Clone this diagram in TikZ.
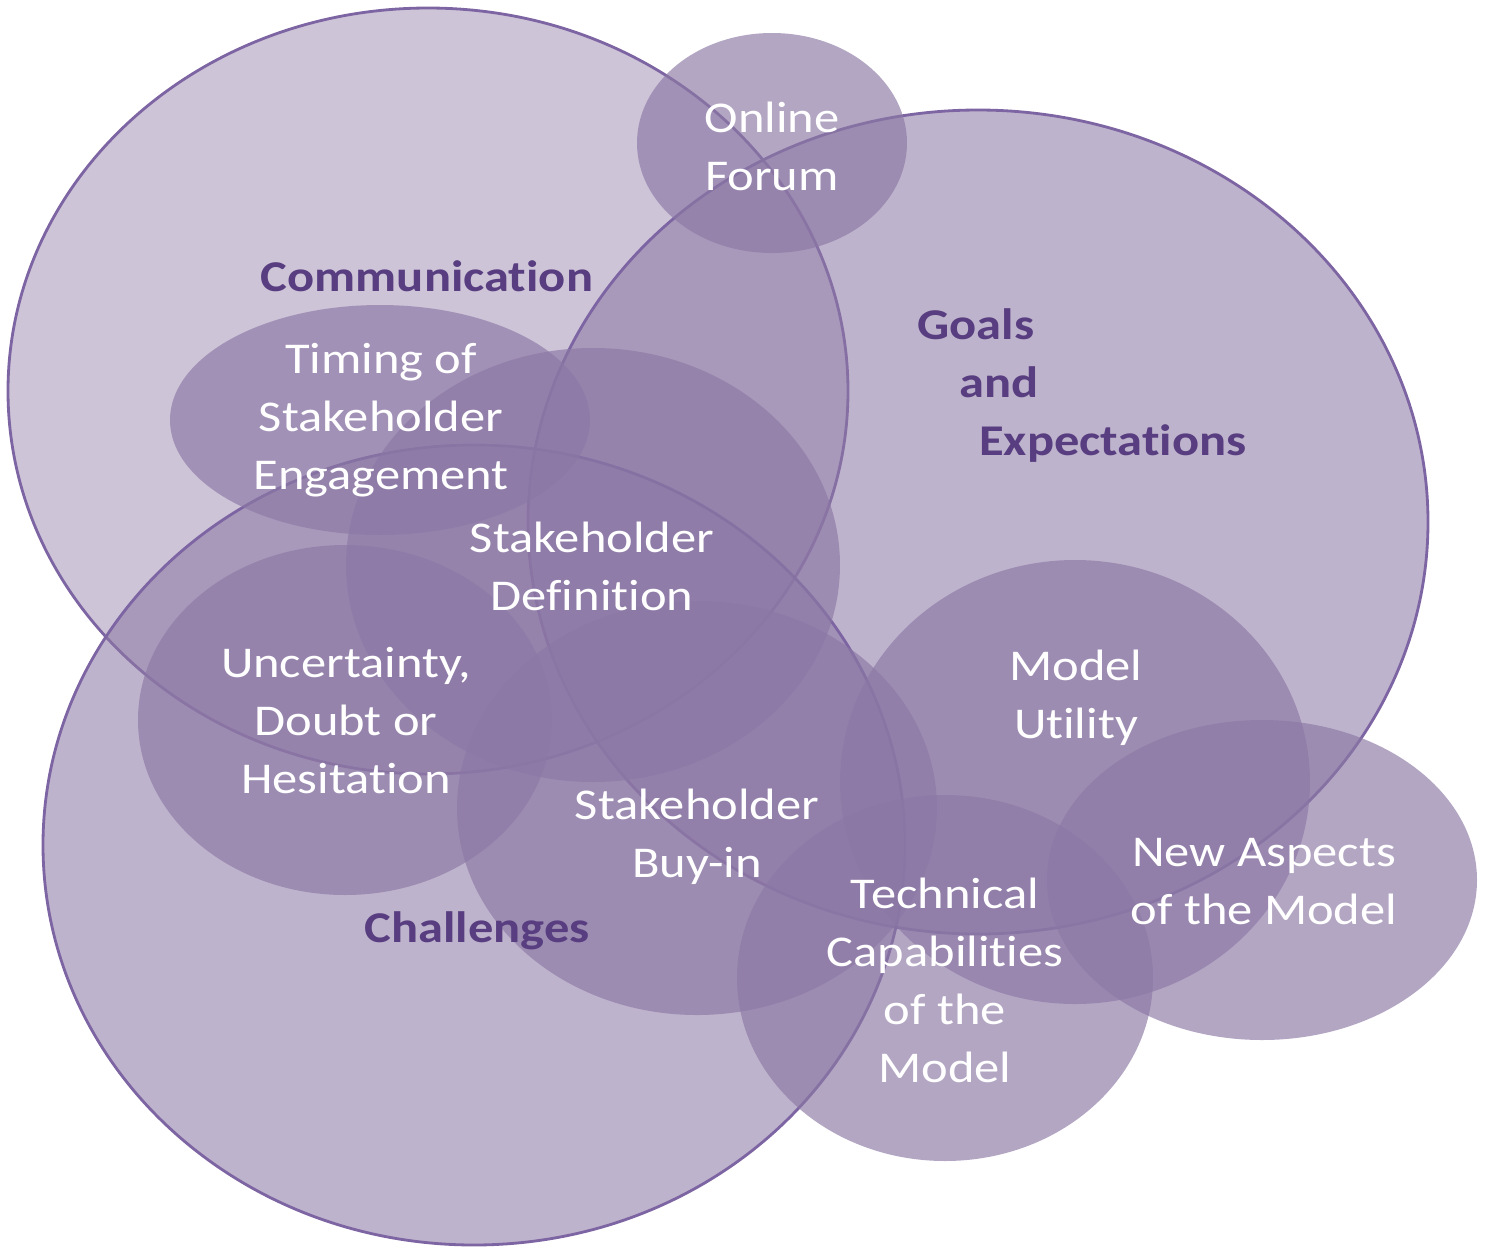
\documentclass[tikz,border=0pt]{standalone}
\usepackage{fontspec}
\setmainfont{Carlito}[FakeStretch=1.15, Ligatures=NoCommon]
\definecolor{vennpurple}{RGB}{140,120,165}
\definecolor{vennline}{RGB}{125,100,162}
\definecolor{venntitle}{RGB}{88,62,128}
\tikzset{
bigset/.style   = {draw=vennline, line width=1.6pt,
                   fill=vennpurple, fill opacity=0.43},
subset/.style   = {fill=vennpurple, fill opacity=0.66},
settitle/.style = {font=\fontsize{25}{33}\selectfont\bfseries,
                   text=venntitle, align=center},
itemtext/.style = {font=\fontsize{25}{33}\selectfont,
                   text=white, align=center}
}

\begin{document}
\begin{tikzpicture}[x=0.02cm, y=-0.02cm]
\fill[white] (0,0) rectangle (1489,1252);
\useasboundingbox (0,0) rectangle (1489,1252);

% themes
\draw[bigset] (428,391) ellipse [x radius=420, y radius=383];
\draw[bigset, fill opacity=0.56] (978,522) ellipse [x radius=450, y radius=412];
\draw[bigset, fill opacity=0.56] (474,845) ellipse [x radius=431, y radius=400];

% sub themes
\foreach \cx/\cy/\rx/\ry in {772/143/135/110, 380/420/210/115,
    593/565/247/217, 345/720/207/175, 697/808/240/207,
    1075/782/235/222, 945/978/208/183, 1262/880/215/160} {
  \fill[subset] (\cx,\cy) ellipse [x radius=\rx, y radius=\ry];
}

\node[settitle] (comm) at (427,276) {Communication};
\node[settitle, align=left] (goals) at (1082,386)
  {Goals\\\hspace*{0.84cm}and\\\hspace*{1.24cm}Expectations};
\node[settitle] (challenges) at (477,931) {Challenges};

\node[itemtext] (forum) at (772,146) {Online\\Forum};
\node[itemtext] (timing) at (381,420) {Timing of\\Stakeholder\\Engagement};
\node[itemtext] (definition) at (592,566) {Stakeholder\\Definition};
\node[itemtext] (doubt) at (346,721) {Uncertainty,\\Doubt or\\Hesitation};
\node[itemtext] (buyin) at (697,837) {Stakeholder\\Buy-in};
\node[itemtext] (utility) at (1076,698) {Model\\Utility};
\node[itemtext] (technical) at (945,980) {Technical\\Capabilities\\of the\\Model};
\node[itemtext] (aspects) at (1264,882) {New Aspects\\of the Model};
\end{tikzpicture}
\end{document}
